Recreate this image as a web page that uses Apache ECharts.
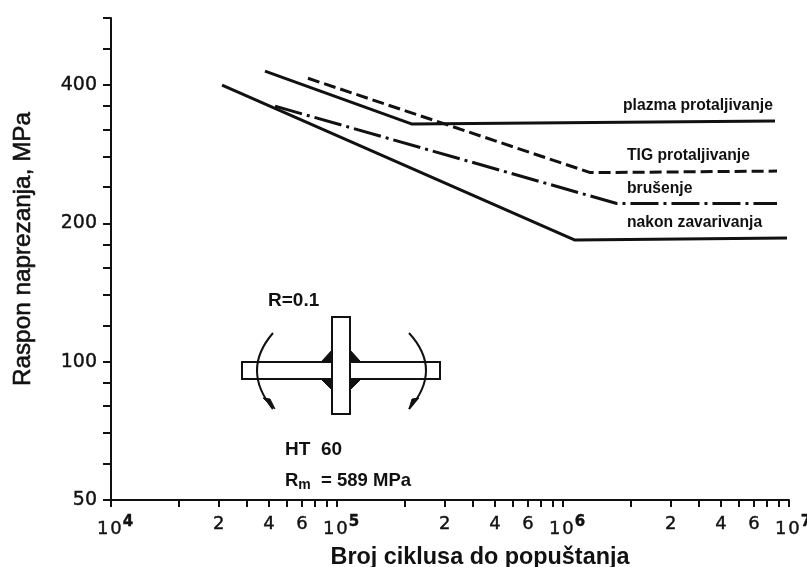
<!DOCTYPE html>
<html><head><meta charset="utf-8">
<script src="https://cdn.jsdelivr.net/npm/echarts@6/dist/echarts.min.js"></script>
<style>html,body{margin:0;padding:0;background:#fff}#c{width:807px;height:567px}</style>
</head><body><div id="c"></div>
<script>
const plazma   = [[4.8e4,429],[2.15e5,329],[8.67e6,334]];
const tig      = [[7.44e4,414],[1.32e6,258],[8.85e6,260]];
const brusenje = [[5.32e4,360],[1.73e6,221],[8.85e6,221]];
const nakon    = [[3.1e4,400],[1.13e6,184],[9.8e6,186]];

const yTicks = [50,60,70,80,90,100,120,140,160,180,200,240,280,320,360,400,480,560];
const yLabels = [50,100,200,400];
const xTicks = [1e4,2e4,3e4,4e4,5e4,6e4,7e4,8e4,9e4,
                1e5,2e5,3e5,4e5,5e5,6e5,7e5,8e5,9e5,
                1e6,2e6,3e6,4e6,5e6,6e6,7e6,8e6,9e6,1e7];
const xLabelPos = [1e4,3e4,5e4,7e4,1e5,3e5,5e5,7e5,1e6,3e6,5e6,7e6,1e7];
const xLabelTxt = ['{b|1\u200a0}{s|4}','2','4','6','{b|1\u200a0}{s|5}','2','4','6','{b|1\u200a0}{s|6}','2','4','6','{b|1\u200a0}{s|7}'];

const ink = '#111111';
const numFont = '"DejaVu Sans"';
const txtFont = '"Liberation Sans"';

function line(name, data, type, width){
  return {name, type:'line', data, showSymbol:false, silent:true, animation:false,
    lineStyle:{color:ink, width, type, cap:'butt', join:'round'}};
}
function note(text, x, y, size, weight){
  return {type:'text', x, y, silent:true, style:{text, fill:ink, font:`${weight} ${size}px ${txtFont}`, verticalAlign:'middle'}};
}
const bw = {stroke:ink, lineWidth:2, fill:'#fff'};
const fillet = p => ({type:'polygon', silent:true, shape:{points:p}, style:{fill:ink, stroke:ink, lineWidth:1}});

const chart = echarts.init(document.getElementById('c'), null, {renderer:'canvas'});
chart.setOption({
  animation:false,
  backgroundColor:'#fff',
  grid:{left:111, right:18, top:18, bottom:67, containLabel:false, outerBoundsMode:'none'},
  xAxis:{type:'log', min:1e4, max:1e7, logBase:10,
    name:'Broj ciklusa do popuštanja', nameLocation:'middle', nameGap:46,
    nameTextStyle:{color:ink, fontFamily:txtFont, fontWeight:'bold', fontSize:23.4, padding:[0,0,0,60]},
    axisLine:{show:true, onZero:false, lineStyle:{color:ink, width:2}},
    axisTick:{show:true, customValues:xTicks, length:7, inside:false, lineStyle:{color:ink, width:2}},
    axisLabel:{show:true, customValues:xLabelPos, margin:15, hideOverlap:false, showMinLabel:true, showMaxLabel:true,
      color:ink, fontFamily:numFont, fontSize:18, textBorderColor:ink, textBorderWidth:0.4,
      formatter:(v)=>xLabelTxt[xLabelPos.findIndex(p=>Math.abs(p-v)/p<1e-6)],
      rich:{b:{fontFamily:numFont,fontSize:18,color:ink,textBorderColor:ink,textBorderWidth:0.4,padding:[0,0,0,8]},
            s:{fontFamily:numFont,fontSize:15,fontWeight:'bold',color:ink,padding:[0,0,14,1]}}},
    splitLine:{show:false}, minorTick:{show:false}, minorSplitLine:{show:false}},
  yAxis:{type:'log', min:50, max:560, logBase:2,
    name:'Raspon naprezanja, MPa', nameLocation:'middle', nameGap:76, nameRotate:90,
    nameTextStyle:{color:ink, fontFamily:txtFont, fontWeight:'normal', fontSize:24.3, textBorderColor:ink, textBorderWidth:0.6, padding:[0,0,0,20]},
    axisLine:{show:true, onZero:false, lineStyle:{color:ink, width:2}},
    axisTick:{show:true, customValues:yTicks, length:8, lineStyle:{color:ink, width:2}},
    axisLabel:{show:true, customValues:yLabels, margin:14, hideOverlap:false, showMinLabel:true, showMaxLabel:true,
      color:ink, fontFamily:numFont, fontSize:19, textBorderColor:ink, textBorderWidth:0.4},
    splitLine:{show:false}, minorTick:{show:false}, minorSplitLine:{show:false}},
  series:[
    line('plazma protaljivanje', plazma, 'solid', 3),
    line('TIG protaljivanje', tig, [12,5], 3),
    line('brušenje', brusenje, [28,5,3,5], 3),
    line('nakon zavarivanja', nakon, 'solid', 3)
  ],
  graphic:{elements:[
    note('plazma protaljivanje',623,106,15.7,'bold'),
    note('TIG protaljivanje',627,156,15.7,'bold'),
    note('brušenje',627,189,15.7,'bold'),
    note('nakon zavarivanja',627,223,15.7,'bold'),
    note('R=0.1',268,301,19,'bold'),
    note('HT  60',285,450,19,'bold'),
    {type:'text', x:285, y:481, silent:true, style:{
      text:'{a|R}{m|m}{a|  = 589 MPa}', fill:ink, verticalAlign:'middle',
      rich:{a:{font:`bold 18.5px ${txtFont}`,fill:ink},m:{font:`bold 14px ${txtFont}`,fill:ink,padding:[8,0,0,0]}}}},
    {type:'rect', silent:true, shape:{x:242,y:362,width:198,height:17}, style:bw},
    fillet([[322,361],[332,350],[332,361]]),
    fillet([[360,361],[350,350],[350,361]]),
    fillet([[322,380],[332,390],[332,380]]),
    fillet([[360,380],[350,390],[350,380]]),
    {type:'rect', silent:true, z:5, shape:{x:332,y:317,width:18,height:97}, style:bw},
    {type:'bezierCurve', silent:true, shape:{x1:273,y1:333,cpx1:241,cpy1:370,x2:273,y2:409}, style:{stroke:ink,lineWidth:2,fill:null}},
    {type:'bezierCurve', silent:true, shape:{x1:409,y1:333,cpx1:443,cpy1:370,x2:409,y2:409}, style:{stroke:ink,lineWidth:2,fill:null}},
    fillet([[263,398],[270,399],[275,409]]),
    fillet([[419,398],[412,399],[409,409]])
  ]}
});
</script></body></html>
